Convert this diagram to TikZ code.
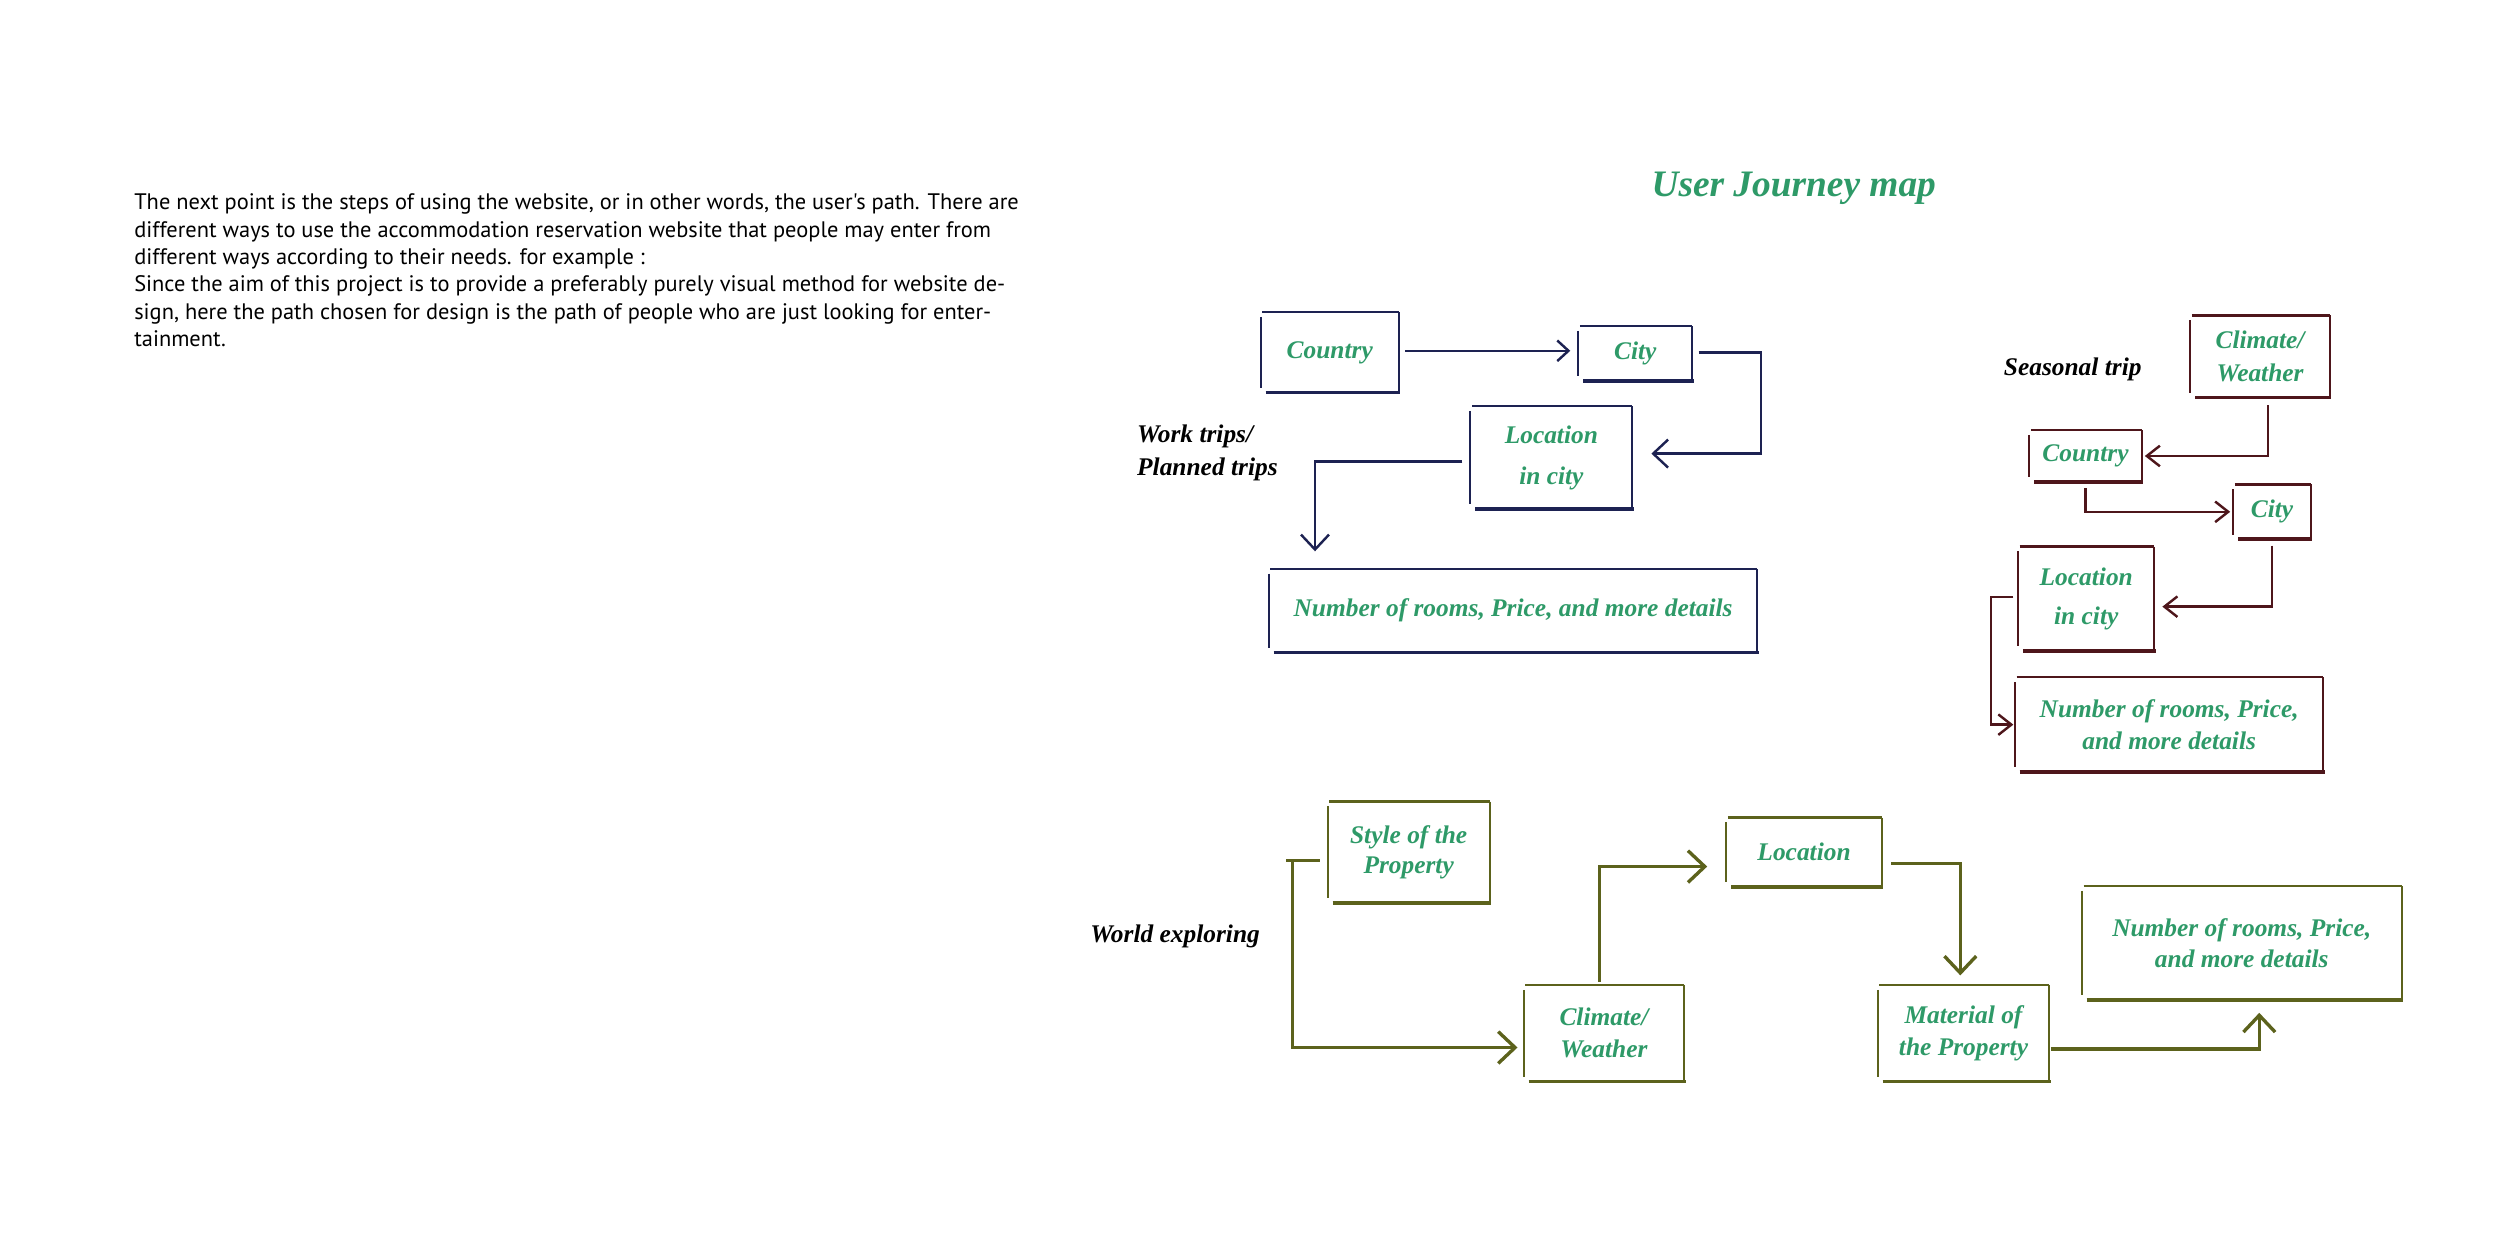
\documentclass[tikz,border=0pt]{standalone}
\usepackage{fontspec}
\usetikzlibrary{calc,arrows.meta}
\newfontfamily\bodyfont{PT Sans}
\newfontfamily\labfont{Liberation Serif}
\definecolor{labgreen}{HTML}{2E9A68}
\definecolor{navyc}{HTML}{1D2252}
\definecolor{maroonc}{HTML}{4E161B}
\definecolor{olivec}{HTML}{5C621C}
\newcommand\skbox[2]{%
  \draw[#2,line width=1.1pt] ($(#1.north west)+(0,3)$) -- ($(#1.south west)+(0,-3)$);
  \draw[#2,line width=1.3pt] ($(#1.north west)+(1,0)$) -- (#1.north east);
  \draw[#2,line width=1.1pt] (#1.north east) -- (#1.south east);
  \draw[#2,line width=2pt] ($(#1.south west)+(3,0)$) -- ($(#1.south east)+(1,0)$);
}
\begin{document}
\begin{tikzpicture}[x=0.03cm,y=-0.03cm,
  bodyline/.style={anchor=base west,inner sep=0pt,text=black,
    font=\bodyfont\fontsize{12}{14}\selectfont},
  box/.style 2 args={minimum width=#1*0.03cm,minimum height=#2*0.03cm,
    inner sep=0pt,align=center,text=labgreen,
    font=\labfont\bfseries\itshape\fontsize{13.6}{17}\selectfont},
  lab/.style={inner sep=0pt,align=left,text=black,
    font=\labfont\bfseries\itshape\fontsize{13.6}{17.6}\selectfont},
  navyarr/.style={navyc,line width=1.3pt,-{Straight Barb[length=8pt,width=15pt]}},
  maroonarr/.style={maroonc,line width=1.3pt,-{Straight Barb[length=7pt,width=11pt]}},
  olivearr/.style={olivec,line width=1.8pt,-{Straight Barb[length=9pt,width=17pt]}},
]
\fill[white] (0,0) rectangle (1568,784);
\useasboundingbox (0,0) rectangle (1568,784);

% body text
\node[bodyline] (t1) at (84,131.5) {The next point is the steps of using the website, or in other words, the user's path. There are};
\node[bodyline] (t2) at (84,148.65) {different ways to use the accommodation reservation website that people may enter from};
\node[bodyline] (t3) at (84,165.8) {different ways according to their needs. for example :};
\node[bodyline] (t4) at (84,182.95) {Since the aim of this project is to provide a preferably purely visual method for website de-};
\node[bodyline] (t5) at (84,200.1) {sign, here the path chosen for design is the path of people who are just looking for enter-};
\node[bodyline] (t6) at (84,217.25) {tainment.};

% title
\node[inner sep=0pt,text=labgreen,font=\labfont\bfseries\itshape\fontsize{20}{24}\selectfont] (title) at (1125,118) {User Journey map};

% ---- Work trips (navy)
\node[box={86}{50}] (wCountry) at (834,221) {Country};
\node[box={71}{34}] (wCity) at (1025.6,221.7) {City};
\node[box={101}{64},font=\labfont\bfseries\itshape\fontsize{13.6}{21.8}\selectfont] (wLoc) at (973,287) {Location\\in city};
\node[box={306}{52}] (wNum) at (949,383) {Number of rooms, Price, and more details};
\node[lab,anchor=west] (wLabel) at (713,284) {Work trips/\\Planned trips};
\skbox{wCountry}{navyc}
\skbox{wCity}{navyc}
\skbox{wLoc}{navyc}
\skbox{wNum}{navyc}
\draw[navyarr,-{Straight Barb[length=6pt,width=11pt]}] ($(wCountry.east)+(4,-1)$) -- ($(wCountry.east -| wCity.west)+(-5,-1)$);
\draw[navyarr] ($(wCity.east)+(4,-0.6)$) -- ++(39,0) |- ($(wLoc.east)+(12,-2.5)$);
\draw[navyarr] ($(wLoc.west)+(-5,2.4)$) -| ($(wNum.north west)+(29,-11)$);

% ---- Seasonal trip (maroon)
\node[box={87}{51},font=\labfont\bfseries\itshape\fontsize{13.6}{18}\selectfont] (sClim) at (1417.5,223.5) {Climate/\\Weather};
\node[box={70}{32}] (sCountry) at (1308,286) {Country};
\node[box={48}{34}] (sCity) at (1425,321) {City};
\node[box={85}{65},font=\labfont\bfseries\itshape\fontsize{13.6}{21}\selectfont] (sLoc) at (1308.5,375.5) {Location\\in city};
\node[box={193}{59}] (sNum) at (1360.5,454.5) {Number of rooms, Price,\\and more details};
\node[lab] (sLabel) at (1300,231.5) {Seasonal trip};
\skbox{sClim}{maroonc}
\skbox{sCountry}{maroonc}
\skbox{sCity}{maroonc}
\skbox{sLoc}{maroonc}
\skbox{sNum}{maroonc}
\draw[maroonarr] ($(sClim.south)+(5,5)$) |- ($(sCountry.east)+(2,0)$);
\draw[maroonarr] ($(sCountry.south)+(0,4)$) |- ($(sCity.west)+(-2,0)$);
\draw[maroonarr] ($(sCity.south)+(0,4)$) |- ($(sLoc.east)+(5,5)$);
\draw[maroonarr] ($(sLoc.west)+(-3,-1)$) -- ++(-14,0) |- ($(sNum.west)+(-1,0)$);

% ---- World exploring (olive)
\node[box={101}{63},font=\labfont\bfseries\itshape\fontsize{13.6}{16}\selectfont] (oStyle) at (883.5,534.5) {Style of the\\Property};
\node[box={100}{60}] (oClim) at (1006,648) {Climate/\\Weather};
\node[box={97}{43}] (oLoc) at (1131.5,534.5) {Location};
\node[box={107}{60}] (oMat) at (1231.5,648) {Material of\\the Property};
\node[box={200}{71}] (oNum) at (1406,591.5) {Number of rooms, Price,\\and more details};
\node[lab] (oLabel) at (737,587) {World exploring};
\skbox{oStyle}{olivec}
\skbox{oClim}{olivec}
\skbox{oLoc}{olivec}
\skbox{oMat}{olivec}
\skbox{oNum}{olivec}
\draw[olivec,line width=1.8pt] ($(oStyle.west)+(-26,5)$) -- ($(oStyle.west)+(-5,5)$);
\draw[olivearr] ($(oStyle.west)+(-22,6)$) |- ($(oClim.west)+(-4,9)$);
\draw[olivearr] ($(oClim.north)+(-3,-2)$) |- ($(oLoc.west)+(-12,9)$);
\draw[olivearr] ($(oLoc.east)+(6,7)$) -| ($(oMat.north)+(-2,-6)$);
\draw[olivearr] ($(oMat.east)+(1,10)$) -| ($(oNum.south)+(11,8)$);
\end{tikzpicture}
\end{document}
